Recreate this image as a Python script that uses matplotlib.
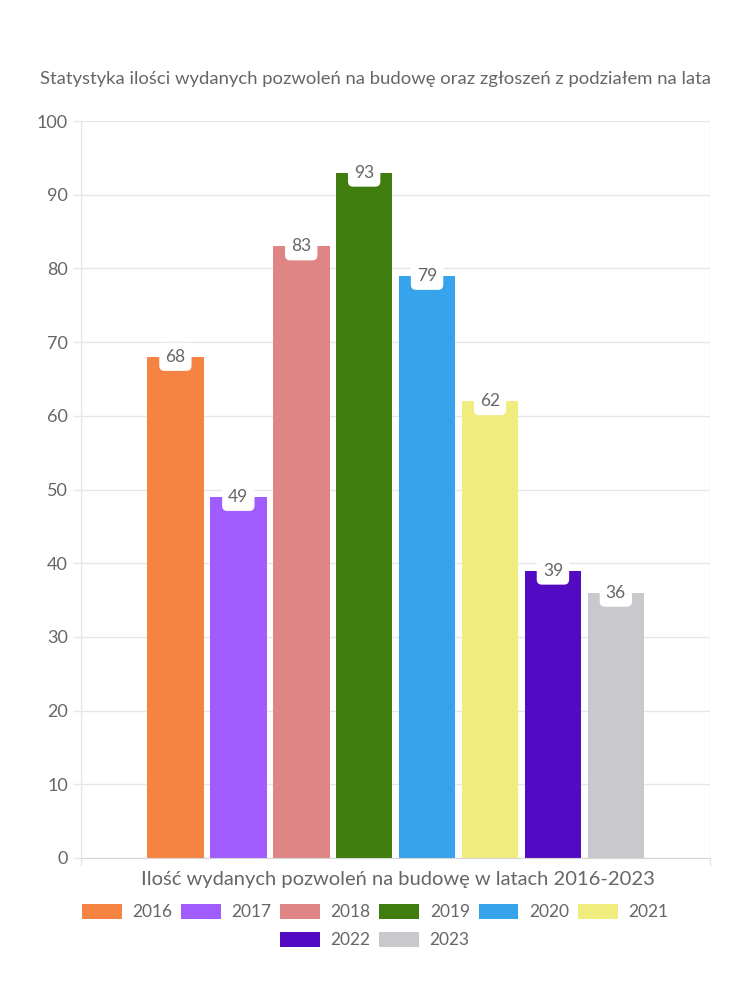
import matplotlib
matplotlib.use("Agg")
import matplotlib.pyplot as plt
from matplotlib.patches import Patch

years = ["2016", "2017", "2018", "2019", "2020", "2021", "2022", "2023"]
values = [68, 49, 83, 93, 79, 62, 39, 36]
colors = ["#f58442", "#a05cff", "#e08585", "#3e7d0e", "#37a3eb", "#f0ec7e", "#520bc2", "#c9c9cd"]
title = "Statystyka ilości wydanych pozwoleń na budowę oraz zgłoszeń z podziałem na lata"
xlabel = "Ilość wydanych pozwoleń na budowę w latach 2016-2023"
yticks = [0, 10, 20, 30, 40, 50, 60, 70, 80, 90, 100]

plt.rcParams['font.family'] = ['Lato', 'DejaVu Sans']
txt = "#666666"
grid = "#e6e6e6"

fig = plt.figure(figsize=(7.5, 10), dpi=100)
ax = fig.add_axes([0.108, 0.142, 0.839, 0.737])

n = len(values)
slot = 0.8 / n
for i, (v, c) in enumerate(zip(values, colors)):
    x = (i - (n - 1) / 2) * slot
    ax.bar(x, v, width=slot * 0.9, color=c, zorder=2)
    ax.text(x, v, str(v), ha='center', va='center', fontsize=12.5, color=txt, zorder=4,
            bbox=dict(boxstyle='round,pad=0.35,rounding_size=0.3', fc='white', ec='none'))

ax.set_xlim(-0.5, 0.5)
ax.set_ylim(0, 100)
ax.set_yticks(yticks)
ax.set_yticklabels([str(t) for t in yticks])
ax.set_xticks([-0.5, 0.5])
ax.set_xticklabels(["", ""])
ax.tick_params(axis='y', colors=grid, labelcolor=txt, labelsize=13, length=6, width=1)
ax.tick_params(axis='x', colors=grid, length=6, width=1)
ax.grid(True, color=grid, lw=1, zorder=0)
for s in ax.spines.values():
    s.set_visible(False)
ax.spines['bottom'].set_visible(True)
ax.spines['bottom'].set_color("#d6d6d6")
ax.spines['left'].set_visible(True)
ax.spines['left'].set_color(grid)
ax.set_axisbelow(True)

fig.text(0.5, 0.921, title, ha='center', va='center', fontsize=13.3, color=txt)
fig.text(0.530, 0.12, xlabel, ha='center', va='center', fontsize=14.5, color=txt)

handles = [Patch(facecolor=c, edgecolor='none') for c in colors]
kw = dict(frameon=False, fontsize=12.5, labelcolor=txt, handlelength=2.3, handleheight=0.95,
          handletextpad=0.6, columnspacing=0.5, loc='center')
fig.legend(handles[:6], years[:6], ncol=6, bbox_to_anchor=(0.5, 0.088), **kw)
fig.legend(handles[6:], years[6:], ncol=2, bbox_to_anchor=(0.5, 0.06), **kw)

fig.savefig("out.png", dpi=100)
